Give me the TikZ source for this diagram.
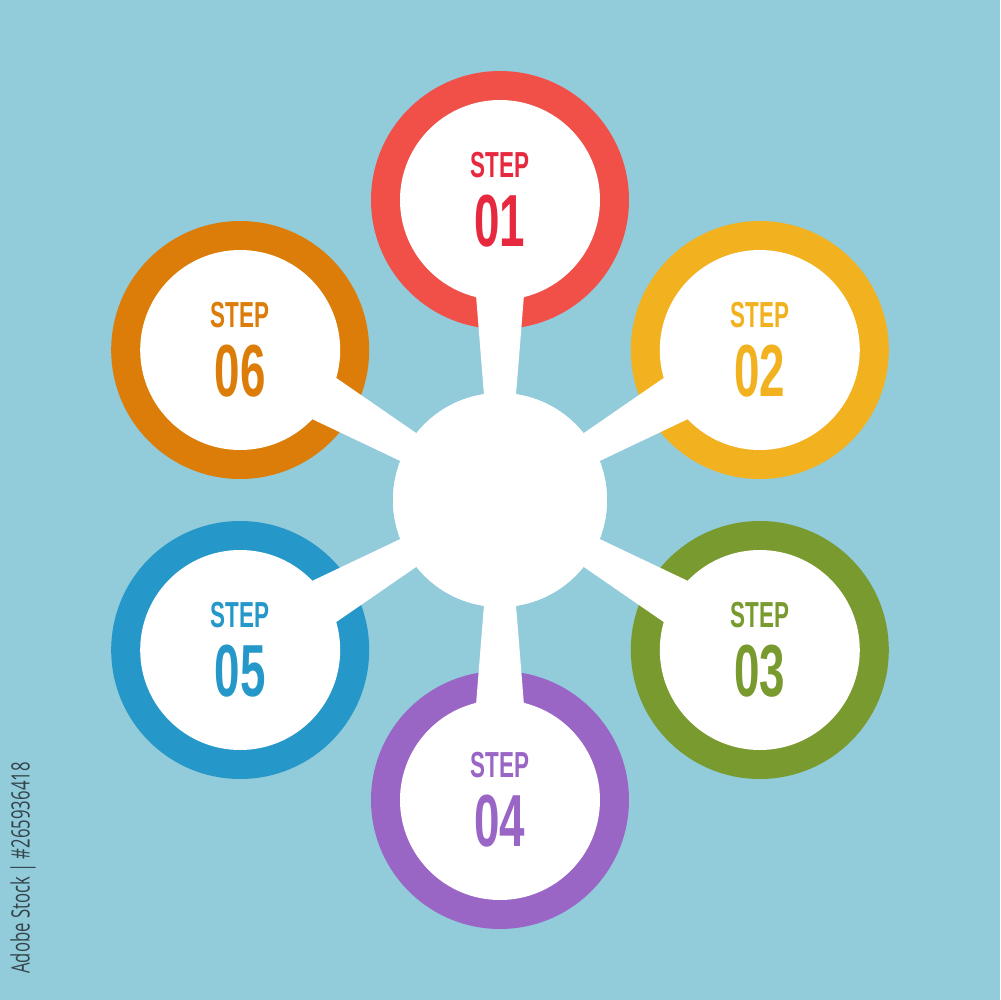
\documentclass[tikz,border=0pt]{standalone}
\usepackage{fontspec}
\setmainfont{Liberation Sans}
\newfontfamily\wmfont{Open Sans}
\usetikzlibrary{calc}
\definecolor{bgc}{HTML}{92CBDA}
\definecolor{cred}{HTML}{F15049}
\definecolor{tred}{HTML}{E6293F}
\definecolor{cyel}{HTML}{F2B11E}
\definecolor{cgrn}{HTML}{799A2F}
\definecolor{cpur}{HTML}{9A66C6}
\definecolor{cblu}{HTML}{2597C8}
\definecolor{cora}{HTML}{DB7D08}
\definecolor{wmgray}{HTML}{34454B}
\tikzset{
  ring/.style={circle, inner sep=0pt, minimum size=25.8mm, fill=#1},
  hole/.style={circle, inner sep=0pt, minimum size=20mm, fill=white},
  hub/.style={circle, inner sep=0pt, minimum size=21.4mm, fill=white},
  spoke/.style={fill=white},
  steptxt/.style={inner sep=0pt, text=#1, font=\fontsize{10.3}{12}\selectfont\bfseries},
  numtxt/.style={inner sep=0pt, text=#1, font=\fontsize{21}{24}\selectfont\bfseries}
}
\newcommand{\cnd}[1]{\scalebox{0.62}[1]{#1}}
\begin{document}
\begin{tikzpicture}[x=0.1mm,y=0.1mm]
\fill[bgc] (-500,-500) rectangle (500,500);
\useasboundingbox (-500,-500) rectangle (500,500);
% rings
\node[ring=cred] (r1) at (90:300) {};
\node[ring=cyel] (r2) at (30:300) {};
\node[ring=cgrn] (r3) at (-30:300) {};
\node[ring=cpur] (r4) at (-90:300) {};
\node[ring=cblu] (r5) at (-150:300) {};
\node[ring=cora] (r6) at (150:300) {};
\foreach \i in {1,...,6} {
  \node[hole] (h\i) at (r\i) {};
}
\node[hub] (c) at (0,0) {};
% spokes
\foreach \i in {1,...,6} {
  \fill[spoke] ($(c)!8mm!(r\i)!1.4mm!90:(r\i)$) -- ($(c)!23mm!(r\i)!2.6mm!90:(r\i)$)
    -- ($(c)!23mm!(r\i)!2.6mm!-90:(r\i)$) -- ($(c)!8mm!(r\i)!1.4mm!-90:(r\i)$) -- cycle;
}
\node[hub] (c2) at (c) {};
% texts
\node[steptxt=tred] (t1) at ($(r1)+(0,35)$) {\cnd{STEP}};
\node[numtxt=tred] (n1) at ($(r1)+(0,-21)$) {\cnd{01}};
\node[steptxt=cyel] (t2) at ($(r2)+(0,35)$) {\cnd{STEP}};
\node[numtxt=cyel] (n2) at ($(r2)+(0,-21)$) {\cnd{02}};
\node[steptxt=cgrn] (t3) at ($(r3)+(0,35)$) {\cnd{STEP}};
\node[numtxt=cgrn] (n3) at ($(r3)+(0,-21)$) {\cnd{03}};
\node[steptxt=cpur] (t4) at ($(r4)+(0,35)$) {\cnd{STEP}};
\node[numtxt=cpur] (n4) at ($(r4)+(0,-21)$) {\cnd{04}};
\node[steptxt=cblu] (t5) at ($(r5)+(0,35)$) {\cnd{STEP}};
\node[numtxt=cblu] (n5) at ($(r5)+(0,-21)$) {\cnd{05}};
\node[steptxt=cora] (t6) at ($(r6)+(0,35)$) {\cnd{STEP}};
\node[numtxt=cora] (n6) at ($(r6)+(0,-21)$) {\cnd{06}};
% side text
\node[rotate=90, inner sep=0pt, text=wmgray] (wm) at (-477,-368)
  {\scalebox{0.66}[1]{\wmfont\fontsize{7.2}{9}\selectfont Adobe Stock | \#265936418}};
\end{tikzpicture}
\end{document}
